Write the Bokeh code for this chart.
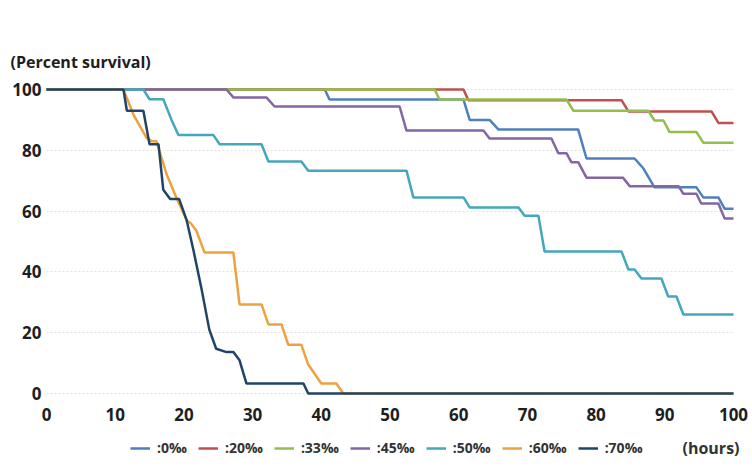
from bokeh.plotting import figure
from bokeh.models import Range1d, Legend, LegendItem, FixedTicker, Label
from bokeh.embed import file_html
from bokeh.resources import INLINE

# ---- data (hours, percent survival) ----
series_names = [":0‰", ":20‰", ":33‰", ":45‰", ":50‰", ":60‰", ":70‰"]
series_colors = ["#4f7fbd", "#c0504d", "#94bd4f", "#8466a3", "#45a7bb", "#eea23f", "#1f4468"]

t_0 = [0, 40.5, 41.2, 60.7, 61.6, 64.5, 65.8, 77.4, 78.6, 85.6, 86.9, 88.5, 94.6, 95.6, 97.8, 98.7, 100]
v_0 = [100, 100, 96.7, 96.7, 90, 90, 86.8, 86.8, 77.3, 77.3, 74, 67.8, 67.8, 64.5, 64.5, 60.8, 60.8]

t_20 = [0, 60.7, 61.4, 83.7, 84.7, 96.8, 97.8, 100]
v_20 = [100, 100, 96.5, 96.5, 92.8, 92.8, 89, 89]

t_33 = [0, 56.5, 57.2, 75.7, 76.7, 87.6, 88.5, 89.8, 90.7, 94.6, 95.6, 100]
v_33 = [100, 100, 96.7, 96.7, 93, 93, 89.8, 89.8, 86, 86, 82.5, 82.5]

t_45 = [0, 26.2, 27.2, 32.0, 33.2, 51.4, 52.4, 63.6, 64.5, 73.5, 74.5, 75.7, 76.4, 77.4, 78.6,
        83.9, 84.9, 92.0, 92.7, 94.6, 95.3, 97.8, 98.7, 100]
v_45 = [100, 100, 97.4, 97.4, 94.4, 94.4, 86.5, 86.5, 83.9, 83.9, 79, 79, 76.1, 76.1, 71,
        71, 68.2, 68.2, 65.7, 65.7, 62.5, 62.5, 57.6, 57.6]

t_50 = [0, 14.1, 15.0, 17.0, 18.2, 19.2, 24.3, 25.2, 31.3, 32.3, 37.1, 38.1, 52.4, 53.4, 60.7, 61.6,
        68.7, 69.6, 71.6, 72.5, 83.7, 84.7, 85.6, 86.6, 89.5, 90.5, 91.7, 92.7, 100]
v_50 = [100, 100, 96.8, 96.8, 90, 85, 85, 82, 82, 76.3, 76.3, 73.3, 73.3, 64.5, 64.5, 61.2,
        61.2, 58.5, 58.5, 46.7, 46.7, 40.8, 40.8, 37.8, 37.8, 31.9, 31.9, 26, 26]

t_60 = [0, 11.2, 12.7, 14.6, 15.3, 16.0, 17.5, 18.9, 20.4, 21.0, 21.8, 23.0, 27.2, 28.1, 31.3, 32.3,
        34.2, 35.2, 37.1, 38.1, 40.0, 42.2, 43.2, 100]
v_60 = [100, 100, 91.5, 84, 83, 83, 72, 64.5, 57, 56, 53.6, 46.4, 46.4, 29.3, 29.3, 22.7,
        22.7, 16, 16, 9.5, 3.3, 3.3, 0, 0]

t_70 = [0, 11.2, 11.7, 14.1, 15.0, 16.3, 17.0, 18.0, 19.3, 20.4, 21.4, 22.6, 23.7, 24.7, 26.2,
        27.2, 28.1, 29.1, 37.4, 38.1, 100]
v_70 = [100, 100, 93, 93, 82, 82, 67, 64, 64, 57, 47, 34, 21, 14.7, 13.6,
        13.6, 10.9, 3.3, 3.3, 0, 0]

x_ticks = [0, 10, 20, 30, 40, 50, 60, 70, 80, 90, 100]
y_ticks = [0, 20, 40, 60, 80, 100]

all_t = [t_0, t_20, t_33, t_45, t_50, t_60, t_70]
all_v = [v_0, v_20, v_33, v_45, v_50, v_60, v_70]

FONT = "Open Sans"

# the frame spans the full width and down to the bottom so that the axes labels,
# legend row and "(hours)" all live inside it (axes are pinned with fixed_location)
p = figure(width=750, height=465, output_backend="svg", toolbar_location=None,
           x_range=Range1d(-6.696, 102.475), y_range=Range1d(-23.7, 102.96),
           min_border_left=0, min_border_right=0, min_border_top=80, min_border_bottom=0)
p.outline_line_color = None
p.background_fill_color = "white"
p.border_fill_color = "white"

# title at top-left
p.title.text = "(Percent survival)"
p.title.align = "left"
p.title.offset = 10
p.title.standoff = 16
p.title.text_font = FONT
p.title.text_font_style = "bold"
p.title.text_font_size = "16px"
p.title.text_color = "#1e1e1e"

# axes
for ax in (p.xaxis[0], p.yaxis[0]):
    ax.axis_line_color = None
    ax.major_tick_line_color = None
    ax.minor_tick_line_color = None
    ax.major_tick_in = 0
    ax.major_tick_out = 0
    ax.minor_tick_in = 0
    ax.minor_tick_out = 0
    ax.major_label_text_font = FONT
    ax.major_label_text_font_style = "bold"
    ax.major_label_text_font_size = "17px"
    ax.major_label_text_color = "#1e1e1e"
p.xaxis.ticker = FixedTicker(ticks=x_ticks)
p.yaxis.ticker = FixedTicker(ticks=y_ticks)
p.xaxis.fixed_location = -3
p.yaxis.fixed_location = 0
p.xaxis.major_label_standoff = 5
p.yaxis.major_label_standoff = 5

p.xgrid.grid_line_color = None
p.ygrid.ticker = FixedTicker(ticks=y_ticks)
p.ygrid.grid_line_color = "#e2e2e2"
p.ygrid.grid_line_dash = "2 2"
p.ygrid.grid_line_width = 1
try:
    p.ygrid.cross_bounds = (0, 100)
except Exception:
    pass

items = []
for name, col, t, v in zip(series_names, series_colors, all_t, all_v):
    r = p.line(t, v, line_color=col, line_width=2.5)
    items.append(LegendItem(label=name, renderers=[r]))

legend = Legend(items=items, orientation="horizontal", location=(130, 8),
                padding=0, margin=0, spacing=11, label_standoff=7,
                glyph_width=20, glyph_height=14, label_height=14,
                label_text_font=FONT, label_text_font_style="bold",
                label_text_font_size="14px", label_text_color="#333333",
                border_line_color=None, background_fill_alpha=0)
p.add_layout(legend, "center")

p.add_layout(Label(x=682, y=18, x_units="screen", y_units="screen",
                   text="(hours)", text_baseline="middle",
                   text_font=FONT, text_font_style="bold", text_font_size="16px",
                   text_color="#333333"))

open("out.html", "w").write(file_html(p, INLINE))
